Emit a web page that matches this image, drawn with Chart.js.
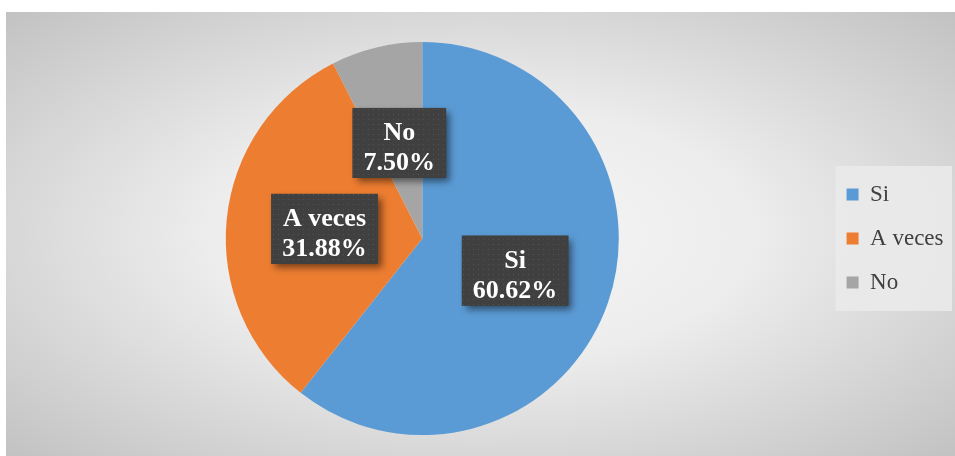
<!DOCTYPE html>
<html>
<head>
<meta charset="utf-8">
<script src="https://cdn.jsdelivr.net/npm/chart.js@4/dist/chart.umd.min.js"></script>
<style>
  body { margin: 0; background: #ffffff; }
  #wrap {
    position: absolute; left: 6px; top: 12px; width: 949px; height: 444px;
    background: radial-gradient(ellipse farthest-corner at 50% 50%, #f6f6f6 0%, #ededed 40%, #c2c2c2 100%);
  }
</style>
</head>
<body>
<div id="wrap"><canvas id="pieChart" width="949" height="444"></canvas></div>
<script>
var labels = ['Si', 'A veces', 'No'];
var percents = [60.62, 31.88, 7.50];
var sliceColors = ['#5b9bd5', '#ed7d31', '#a5a5a5'];

// small dotted texture for the label boxes
function makeDots() {
    var c = document.createElement('canvas');
    c.width = 5; c.height = 5;
    var g = c.getContext('2d');
    g.fillStyle = '#404040';
    g.fillRect(0, 0, 5, 5);
    g.fillStyle = '#525252';
    g.fillRect(2, 2, 1, 1);
    return c;
}
var dots = makeDots();

var legendBox = {
    id: 'legendBox',
    beforeDraw: function(chart) {
        var boxes = chart.legend.legendHitBoxes;
        if (!boxes || !boxes.length) return;
        var g = chart.ctx;
        var x0 = boxes[0].left - 11;
        var y0 = boxes[0].top - 17;
        var last = boxes[boxes.length - 1];
        g.save();
        g.fillStyle = 'rgba(234,234,234,0.9)';
        g.fillRect(x0, y0, 946 - x0, last.top + last.height + 17 - y0);
        g.restore();
    }
};

var sliceLabels = {
    id: 'sliceLabels',
    afterDatasetsDraw: function(chart) {
        var g = chart.ctx;
        var meta = chart.getDatasetMeta(0);
        g.save();
        g.font = 'bold 26px "Liberation Serif", "Times New Roman", serif';
        meta.data.forEach(function(arc, i) {
            var p = arc.getProps(['x', 'y', 'startAngle', 'endAngle', 'outerRadius'], true);
            var mid = (p.startAngle + p.endAngle) / 2;
            var cx = p.x + Math.cos(mid) * p.outerRadius * 0.5;
            var cy = p.y + Math.sin(mid) * p.outerRadius * 0.5;
            var l1 = labels[i];
            var l2 = percents[i].toFixed(2) + '%';
            var w = Math.max(g.measureText(l1).width, g.measureText(l2).width) + 22;
            var h = 70;
            g.save();
            g.shadowColor = 'rgba(0,0,0,0.5)';
            g.shadowBlur = 7;
            g.shadowOffsetX = 4;
            g.shadowOffsetY = 4;
            g.fillStyle = '#404040';
            g.fillRect(cx - w / 2, cy - h / 2, w, h);
            g.restore();
            g.fillStyle = g.createPattern(dots, 'repeat');
            g.fillRect(cx - w / 2, cy - h / 2, w, h);
            g.fillStyle = '#ffffff';
            g.textAlign = 'center';
            g.textBaseline = 'alphabetic';
            g.fillText(l1, cx, cy - 3);
            g.fillText(l2, cx, cy + 27);
        });
        g.restore();
    }
};

var chart = new Chart(document.getElementById('pieChart').getContext('2d'), {
    type: 'pie',
    data: {
        labels: labels,
        datasets: [{
            data: percents,
            backgroundColor: sliceColors,
            borderWidth: 0
        }]
    },
    options: {
        responsive: false,
        animation: false,
        layout: {
            padding: { left: 13, right: 1.5, top: 30, bottom: 21 }
        },
        plugins: {
            legend: {
                position: 'right',
                labels: {
                    boxWidth: 12,
                    boxHeight: 12,
                    padding: 21,
                    color: '#404040',
                    font: { family: '"Liberation Serif", "Times New Roman", serif', size: 23 }
                }
            },
            tooltip: { enabled: false }
        }
    },
    plugins: [legendBox, sliceLabels]
});
</script>
</body>
</html>
